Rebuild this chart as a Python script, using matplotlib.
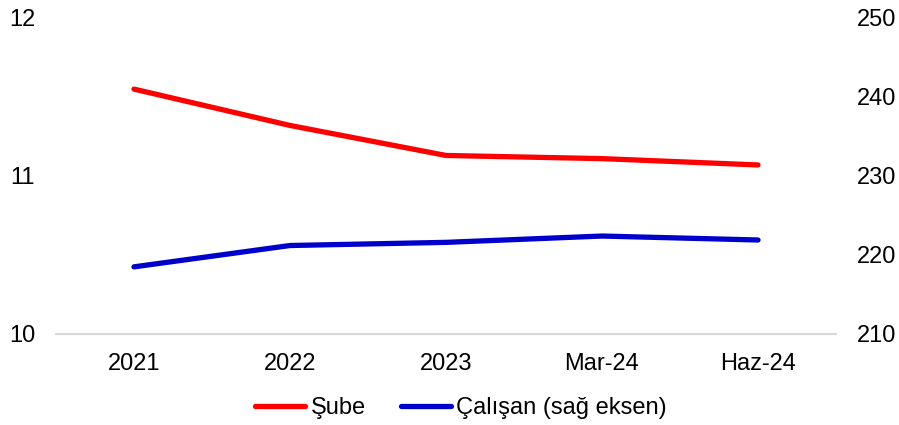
import matplotlib.pyplot as plt

plt.rcParams['font.family'] = ['Liberation Sans', 'DejaVu Sans']

donem = ['2021', '2022', '2023', 'Mar-24', 'Haz-24']
sube = [11.55, 11.32, 11.13, 11.11, 11.07]       # sol eksen
calisan = [218.5, 221.2, 221.6, 222.4, 221.9]    # sağ eksen

fig = plt.figure(figsize=(8.99, 4.25), dpi=100)
ax = fig.add_axes([56 / 899, 91 / 425, 780 / 899, 316 / 425])
ax2 = ax.twinx()

x = range(len(donem))
l1, = ax.plot(x, sube, color='#ff0000', lw=3.8, solid_capstyle='round', label='Şube')
l2, = ax2.plot(x, calisan, color='#0000cc', lw=3.8, solid_capstyle='round', label='Çalışan (sağ eksen)')

ax.set_xlim(-0.5, 4.5)
ax.set_ylim(10, 12)
ax.set_yticks([10, 11, 12])
ax2.set_ylim(210, 250)
ax2.set_yticks([210, 220, 230, 240, 250])
ax.set_xticks(list(x))
ax.set_xticklabels(donem)

for a in (ax, ax2):
    for s in ('top', 'left', 'right'):
        a.spines[s].set_visible(False)
    a.spines['bottom'].set_color('#d9d9d9')
    a.spines['bottom'].set_linewidth(1.5)
ax2.spines['bottom'].set_visible(False)

ax.tick_params(axis='y', length=0, pad=15, labelsize=17)
ax2.tick_params(axis='y', length=0, pad=15, labelsize=17)
ax.tick_params(axis='x', length=0, pad=14, labelsize=17)

fig.legend(handles=[l1, l2], loc='center', bbox_to_anchor=(461 / 899, 1 - 408 / 425),
           ncol=2, frameon=False, fontsize=17, handlelength=2.1, handletextpad=0.25,
           columnspacing=1.5)

fig.savefig('out.png', dpi=100)
